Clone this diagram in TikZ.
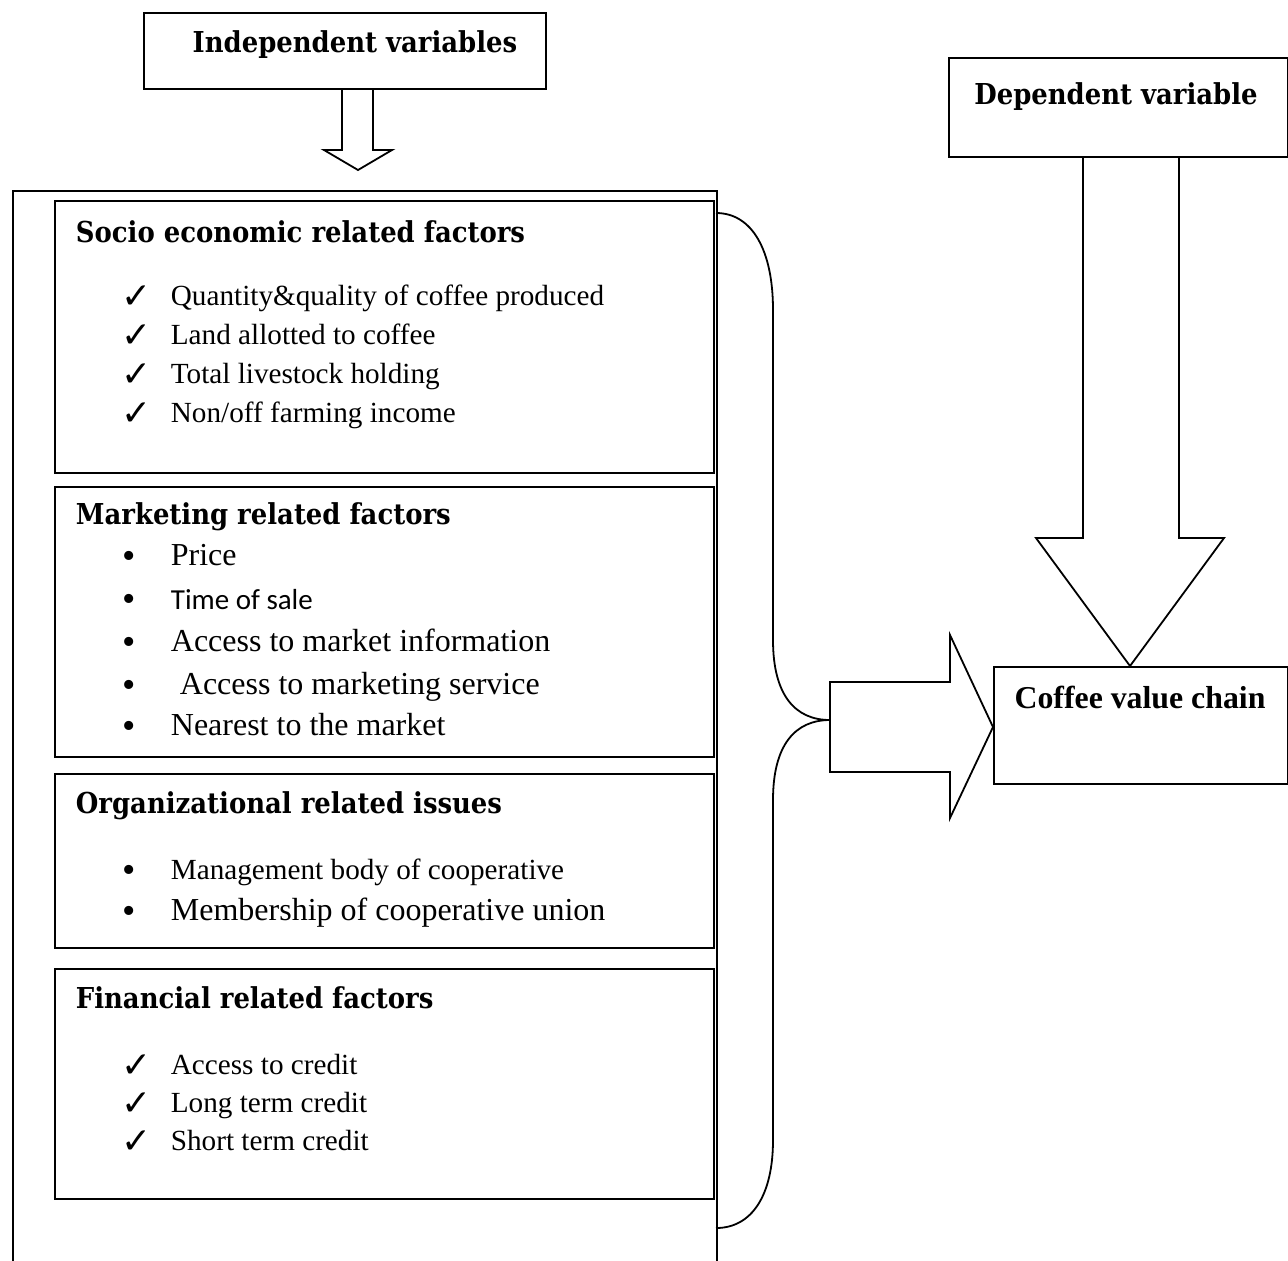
\documentclass[tikz,border=0pt]{standalone}
\usepackage{fontspec}
\setmainfont{Liberation Serif}
\newfontfamily\headfont{DejaVu Serif Condensed}
\newfontfamily\symfont{DejaVu Sans}
\newfontfamily\calfont{Carlito}
\usetikzlibrary{positioning}

\begin{document}
\begin{tikzpicture}[x=0.5pt, y=-0.5pt, line width=0.9pt,
    box/.style={draw, rectangle, inner sep=0pt, anchor=north west},
    head/.style={inner sep=0pt, font=\headfont\bfseries\fontsize{14.4}{17}\selectfont},
    item/.style={anchor=west, inner sep=0pt, text height=1.5ex, text depth=.25ex, font=\fontsize{14.6}{17}\selectfont},
    bigitem/.style={item, font=\fontsize{16}{19}\selectfont},
    chk/.style={anchor=west, inner sep=0pt, font=\symfont\fontsize{18}{20}\selectfont},
    dot/.style={anchor=center, inner sep=0pt, font=\fontsize{19}{20}\selectfont}]
    \useasboundingbox (0,0) rectangle (1288,1260);

    % variable boxes
    \node[box, minimum width=201pt, minimum height=38pt] (indep) at (143,12) {};
    \node[head] at (355,45) {Independent variables};
    \node[box, minimum width=169.5pt, minimum height=49.5pt] (dep) at (948,57) {};
    \node[head] at (1116,97) {Dependent variable};
    \node[box, minimum width=147pt, minimum height=58.5pt] (chain) at (993,666) {};
    \node[head, font=\bfseries\fontsize{15.9}{19}\selectfont] at (1140,697) {Coffee value chain};

    % factor groups
    \node[box, minimum width=352pt, minimum height=540pt] (frame) at (12,190) {};
    \node[box, minimum width=329.5pt, minimum height=136pt] (socio) at (54,200) {};
    \node[box, minimum width=329.5pt, minimum height=135pt] (market) at (54,486) {};
    \node[box, minimum width=329.5pt, minimum height=87pt] (org) at (54,773) {};
    \node[box, minimum width=329.5pt, minimum height=115pt] (fin) at (54,968) {};

    \node[head, anchor=west] (socioT) at (75,232) {Socio economic related factors};
    \node[head, anchor=west] (marketT) at (75,517) {Marketing related factors};
    \node[head, anchor=west] (orgT) at (75,806) {Organizational related issues};
    \node[head, anchor=west] (finT) at (75,998) {Financial related factors};

    \foreach \t [count=\i] in {Quantity\&quality of coffee produced, Land allotted to coffee,
        Total livestock holding, Non/off farming income} {
        \node[chk] at (121,{297+39*(\i-1)}) {✓};
        \node[item] at (170,{300+39*(\i-1)}) {\t};
    }

    \node[dot] at (129,560) {•};
    \node[bigitem] at (170,560) {Price};
    \node[dot] at (129,603) {•};
    \node[item, font=\calfont\fontsize{14.5}{17}\selectfont] at (170,604) {Time of sale};
    \node[dot] at (129,646) {•};
    \node[bigitem] at (170,646) {Access to market information};
    \node[dot] at (129,689) {•};
    \node[bigitem] at (179,689) {Access to marketing service};
    \node[dot] at (129,730) {•};
    \node[bigitem] at (170,730) {Nearest to the market};

    \node[dot] at (129,874) {•};
    \node[item] at (170,874) {Management body of cooperative};
    \node[dot] at (129,915) {•};
    \node[bigitem] at (170,915) {Membership of cooperative union};

    \foreach \t [count=\i] in {Access to credit, Long term credit, Short term credit} {
        \node[chk] at (121,{1066+38*(\i-1)}) {✓};
        \node[item] at (170,{1069+38*(\i-1)}) {\t};
    }

    % block arrows
    \draw (342,88) -- (342,150) -- (324,150) -- (358,170) -- (392,150) -- (373,150) -- (373,88);
    \draw (1083,156) -- (1083,538) -- (1036,538) -- (1130,666) -- (1224,538) -- (1179,538) -- (1179,156);
    \draw (830,682) -- (950,682) -- (950,635) -- (993,727) -- (950,818) -- (950,772) -- (830,772) -- cycle;

    % brace
    \draw (716,213) .. controls (752,213) and (773,250) .. (773,310) -- (773,640)
        .. controls (773,695) and (795,720) .. (830,720)
        .. controls (795,720) and (773,745) .. (773,800) -- (773,1140)
        .. controls (773,1195) and (752,1228) .. (716,1228);
\end{tikzpicture}
\end{document}
